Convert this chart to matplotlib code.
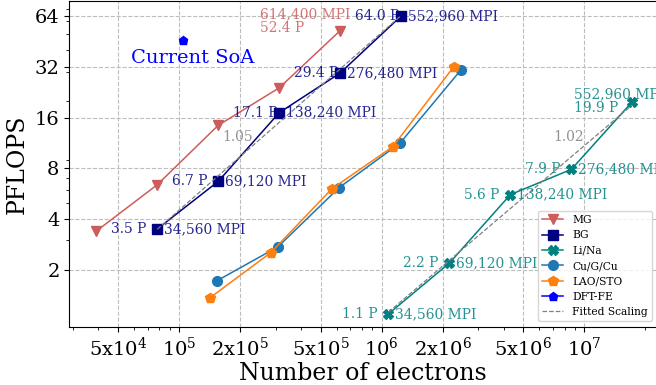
import numpy as np
import matplotlib
matplotlib.use("Agg")
import matplotlib.pyplot as plt
from matplotlib.ticker import NullFormatter

plt.rcParams['font.family'] = ['DejaVu Serif']
plt.rcParams['mathtext.fontset'] = 'dejavuserif'

# ── data ──────────────────────────────────────────
mg_electrons = [39000, 78000, 156000, 312000, 624000]
mg_pflops = [3.4, 6.4, 14.4, 24.0, 52.4]

bg_electrons = [78000, 156000, 312000, 624000, 1248000]
bg_pflops = [3.5, 6.7, 17.1, 29.4, 64.0]
bg_mpi = ["34,560", "69,120", "138,240", "276,480", "552,960"]

lina_electrons = [1.08e6, 2.16e6, 4.32e6, 8.64e6, 1.728e7]
lina_pflops = [1.1, 2.2, 5.6, 7.9, 19.9]
lina_mpi = ["34,560", "69,120", "138,240", "276,480", "552,960"]

cu_electrons = [154000, 308000, 616000, 1232000, 2464000]
cu_pflops = [1.73, 2.75, 6.15, 11.3, 30.7]

lao_electrons = [142000, 284000, 568000, 1136000, 2272000]
lao_pflops = [1.37, 2.54, 6.06, 10.77, 32.1]

dftfe_electrons = [105000]
dftfe_pflops = [46.3]

mg_last_mpi = "614,400"

x_ticks = [5e4, 1e5, 2e5, 5e5, 1e6, 2e6, 5e6, 1e7]
x_ticklabels = ['5x$10^4$', '$10^5$', '2x$10^5$', '5x$10^5$',
                '$10^6$', '2x$10^6$', '5x$10^6$', '$10^7$']
y_ticks = [2, 4, 8, 16, 32, 64]


def fit(x, y):
    """log-log 线性拟合，返回斜率和拟合线"""
    lx, ly = np.log(x), np.log(y)
    k, b = np.polyfit(lx, ly, 1)
    xs = np.array([x[0], x[-1]])
    return k, xs, np.exp(b) * xs ** k


fig = plt.figure(figsize=(6.56, 3.85), dpi=100)
ax = fig.add_axes([69.3 / 656, 58.3 / 385, 588 / 656, 325.7 / 385])
ax.set_xscale('log')
ax.set_yscale('log')

ms = 7
lw = 1.1
ax.plot(mg_electrons, mg_pflops, 'v-', color='indianred', ms=ms, lw=lw, label='MG')
ax.plot(bg_electrons, bg_pflops, 's-', color='navy', ms=ms, lw=lw, label='BG')
ax.plot(lina_electrons, lina_pflops, 'X-', color='teal', ms=ms, lw=lw, label='Li/Na')
ax.plot(cu_electrons, cu_pflops, 'o-', color='tab:blue', ms=ms, lw=lw, label='Cu/G/Cu')
ax.plot(lao_electrons, lao_pflops, 'p-', color='tab:orange', ms=ms, lw=lw, label='LAO/STO')
ax.plot(dftfe_electrons, dftfe_pflops, 'p-', color='blue', ms=6.3, lw=lw, label='DFT-FE')

# 拟合线
k_bg, xs, ys = fit(bg_electrons, bg_pflops)
ax.plot(xs, ys, '--', color='gray', lw=0.9, label='Fitted Scaling')
k_li, xs, ys = fit(lina_electrons, lina_pflops)
ax.plot(xs, ys, '--', color='gray', lw=0.9)

ax.text(1.945e5, 12.35, f'{k_bg:.2f}', color='gray', fontsize=10,
        ha='center', va='center', alpha=0.85)
ax.text(8.38e6, 12.35, f'{k_li:.2f}', color='gray', fontsize=10,
        ha='center', va='center', alpha=0.85)

# 数据标签
fs = 10
for x, y, m in zip(bg_electrons, bg_pflops, bg_mpi):
    ax.annotate(f'{y:.1f} P', (x, y), xytext=(-33.5, 0), textcoords='offset points',
                ha='left', va='center', color='navy', alpha=0.85, fontsize=fs)
    ax.annotate(f'{m} MPI', (x, y), xytext=(4.6, 0), textcoords='offset points',
                ha='left', va='center', color='navy', alpha=0.85, fontsize=fs)

for x, y, m in list(zip(lina_electrons, lina_pflops, lina_mpi))[:-1]:
    ax.annotate(f'{y:.1f} P', (x, y), xytext=(-33.5, 0), textcoords='offset points',
                ha='left', va='center', color='teal', alpha=0.85, fontsize=fs)
    ax.annotate(f'{m} MPI', (x, y), xytext=(4.6, 0), textcoords='offset points',
                ha='left', va='center', color='teal', alpha=0.85, fontsize=fs)

ax.annotate(f'{lina_mpi[-1]} MPI\n{lina_pflops[-1]:.1f} P',
            (lina_electrons[-1], lina_pflops[-1]), xytext=(-42, -9.5),
            textcoords='offset points', ha='left', va='bottom',
            color='teal', alpha=0.85, fontsize=fs, linespacing=1.0)

ax.annotate(f'{mg_last_mpi} MPI\n{mg_pflops[-1]:.1f} P',
            (mg_electrons[-1], mg_pflops[-1]), xytext=(-57.6, -3.5),
            textcoords='offset points', ha='left', va='bottom',
            color='indianred', alpha=0.85, fontsize=fs, linespacing=1.0)

ax.annotate('Current SoA', (dftfe_electrons[0], dftfe_pflops[0]), xytext=(7, -13),
            textcoords='offset points', ha='center', va='center',
            color='blue', fontsize=14)

# ── 坐标轴 ──────────────────────────────────
ax.set_xlim(2.873e4, 2.294e7)
ax.set_ylim(0.924, 78.5)
ax.set_xticks(x_ticks)
ax.set_xticklabels(x_ticklabels)
ax.xaxis.set_minor_formatter(NullFormatter())
ax.set_yticks(y_ticks)
ax.set_yticklabels([str(v) for v in y_ticks])
ax.yaxis.set_minor_formatter(NullFormatter())
ax.tick_params(labelsize=14)

ax.grid(True, which='major', ls='--', color='#bdbdbd', lw=0.8)
ax.set_xlabel('Number of electrons', fontsize=17, labelpad=2)
ax.set_ylabel('PFLOPS', fontsize=17)

ax.legend(loc='lower right', fontsize=7.7)

fig.savefig('out.png', dpi=100)
